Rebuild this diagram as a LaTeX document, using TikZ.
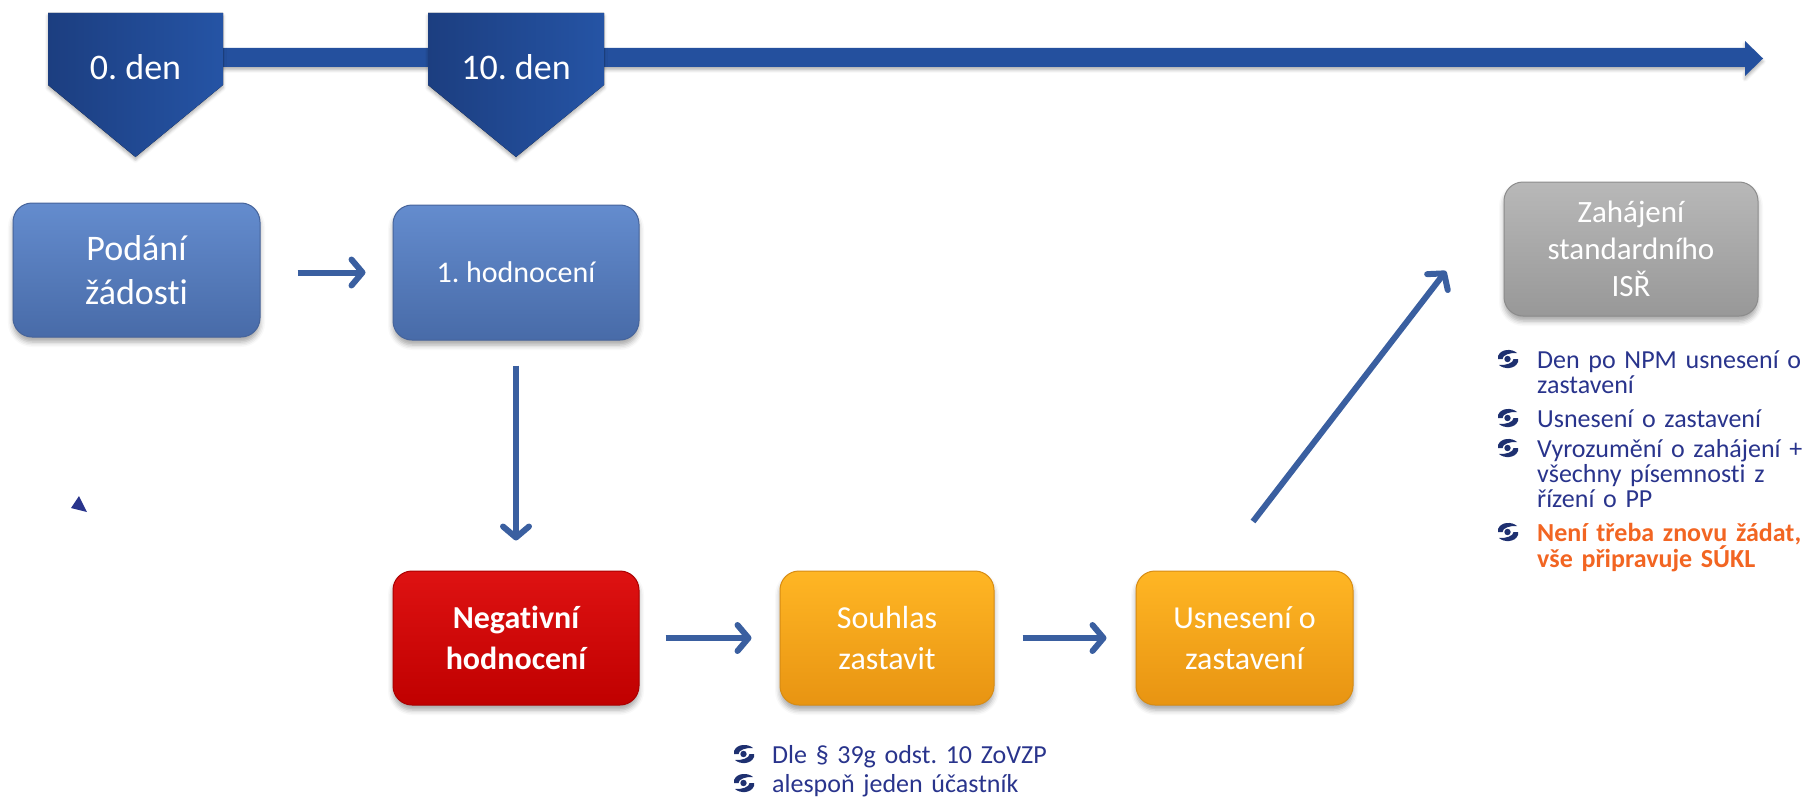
\documentclass[tikz,border=0pt]{standalone}
\usepackage{fontspec}
\setmainfont{Carlito}[Ligatures=NoCommon]
\usetikzlibrary{arrows.meta,shadows.blur,calc}
\frenchspacing

\definecolor{flowblue}{RGB}{58,95,160}
\definecolor{barblue}{RGB}{36,80,158}
\definecolor{markL}{RGB}{28,62,128}
\definecolor{markR}{RGB}{37,84,165}
\definecolor{blueT}{RGB}{100,140,206}
\definecolor{blueB}{RGB}{72,107,168}
\definecolor{blueE}{RGB}{70,100,155}
\definecolor{redT}{RGB}{222,18,18}
\definecolor{redB}{RGB}{192,0,0}
\definecolor{redE}{RGB}{170,0,0}
\definecolor{orangeT}{RGB}{255,182,36}
\definecolor{orangeB}{RGB}{232,148,18}
\definecolor{orangeE}{RGB}{215,140,20}
\definecolor{grayT}{RGB}{184,184,184}
\definecolor{grayB}{RGB}{152,152,152}
\definecolor{grayE}{RGB}{140,140,140}
\definecolor{listnavy}{RGB}{41,52,140}
\definecolor{iconnavy}{RGB}{30,48,112}
\definecolor{accent}{RGB}{242,101,34}

\tikzset{
  stage/.style={rounded corners=19pt, text=white, align=center, inner sep=0pt,
    line width=1pt,
    blur shadow={shadow xshift=0pt, shadow yshift=-5pt, shadow blur radius=5pt, shadow opacity=35}},
  bluebox/.style={stage, top color=blueT, bottom color=blueB, draw=blueE},
  redbox/.style={stage, top color=redT, bottom color=redB, draw=redE},
  orangebox/.style={stage, top color=orangeT, bottom color=orangeB, draw=orangeE},
  graybox/.style={stage, top color=grayT, bottom color=grayB, draw=grayE},
  flow/.style={draw=flowblue, line width=6pt,
    -{Straight Barb[length=11pt,width=26pt,round]}},
  marker/.style={left color=markL, right color=markR,
    blur shadow={shadow xshift=0pt, shadow yshift=-3pt, shadow blur radius=3pt, shadow opacity=30}},
  daytext/.style={text=white, font=\fontsize{36}{44}\selectfont, anchor=base, inner sep=0pt},
  listtext/.style={text=listnavy, font=\fontsize{26}{25}\selectfont, anchor=base west,
    text width=300pt, align=left, inner sep=0pt},
  eyebullet/.pic={
    % upper swoosh, heavy at the left end
    \fill[iconnavy] (9,-6) .. controls (4,-10.5) and (-7,-10.5) .. (-10,-3)
       -- (-10,0) -- (-5.5,0) .. controls (-5.5,-4) and (2,-6.5) .. (9,-6) -- cycle;
    % lower swoosh, heavy at the right end
    \fill[iconnavy] (-9,6) .. controls (-4,10.5) and (7,10.5) .. (10,3)
       -- (10,0) -- (5.5,0) .. controls (5.5,4) and (-2,6.5) .. (-9,6) -- cycle;
    \fill[iconnavy] (-0.5,0) circle (3.2);
  }
}

\begin{document}
\begin{tikzpicture}[x=1pt,y=-1pt]
\useasboundingbox (0,0) rectangle (1804,797);

% time axis
\fill[barblue, blur shadow={shadow xshift=0pt, shadow yshift=-3pt, shadow blur radius=3pt, shadow opacity=30}]
  (200,48) -- (1745,48) -- (1745,41) -- (1763,58.5) -- (1745,76) -- (1745,67) -- (200,67) -- cycle;

% day markers
\fill[marker] (48,13) -- (223,13) -- (223,85) -- (135.5,157) -- (48,85) -- cycle;
\node[daytext] (day0) at (135.5,80) {0. den};
\fill[marker] (428,13) -- (604,13) -- (604,85) -- (516,157) -- (428,85) -- cycle;
\node[daytext] (day10) at (516,80) {10. den};

% stages
\node[bluebox, minimum width=247pt, minimum height=134pt,
      font=\fontsize{36}{44}\selectfont] (pod) at (136.5,270) {Podání\\žádosti};
\node[bluebox, minimum width=246pt, minimum height=135pt,
      font=\fontsize{30}{36}\selectfont] (h1) at (516,272.5) {1. hodnocení};
\node[redbox, minimum width=246pt, minimum height=134pt,
      font=\fontsize{32}{41}\selectfont\bfseries] (neg) at (516,638) {Negativní\\hodnocení};
\node[orangebox, minimum width=214pt, minimum height=134pt,
      font=\fontsize{32}{41}\selectfont] (sou) at (887,638) {Souhlas\\zastavit};
\node[orangebox, minimum width=217pt, minimum height=134pt,
      font=\fontsize{32}{41}\selectfont] (usn) at (1244.5,638) {Usnesení o\\zastavení};
\node[graybox, minimum width=254pt, minimum height=134pt,
      font=\fontsize{31}{37}\selectfont] (isr) at (1631,249) {Zahájení\\standardního\\ISŘ};

% connectors
\draw[flow, shorten <=37pt, shorten >=27pt] (pod.east |- h1.east) -- (h1.west);
\draw[flow, shorten <=25pt, shorten >=30pt] (h1.south) -- (neg.north);
\draw[flow, shorten <=26pt, shorten >=28pt] (neg.east) -- (sou.west);
\draw[flow, shorten <=28pt, shorten >=29pt] (sou.east) -- (usn.west);
\coordinate (riseFrom) at ($(usn.north)+(8.5,-49)$);
\coordinate (riseTo) at (1446,271);
\draw[flow] (riseFrom) -- (riseTo);

% notes beside the standard procedure
\pic at (1508,359) {eyebullet};
\node[listtext] (r1) at (1537,368) {Den po NPM usnesení o\\zastavení};
\pic at (1508,418) {eyebullet};
\node[listtext] (r2) at (1537,427) {Usnesení o zastavení};
\pic at (1508,448) {eyebullet};
\node[listtext] (r3) at (1537,457) {Vyrozumění o zahájení +\\všechny písemnosti z\\řízení o PP};
\pic at (1508,532) {eyebullet};
\node[listtext, text=accent, font=\fontsize{26}{25}\selectfont\bfseries] (r4) at (1537,541)
  {Není třeba znovu žádat,\\vše připravuje SÚKL};

% notes below the consent stage
\pic at (744,754) {eyebullet};
\node[listtext] (b1) at (772,763) {Dle § 39g odst. 10 ZoVZP};
\pic at (744,783) {eyebullet};
\node[listtext] (b2) at (772,792) {alespoň jeden účastník};

% small mark on the left
\fill[listnavy] (79,496) -- (71,508) -- (87,512) -- cycle;
\end{tikzpicture}
\end{document}
